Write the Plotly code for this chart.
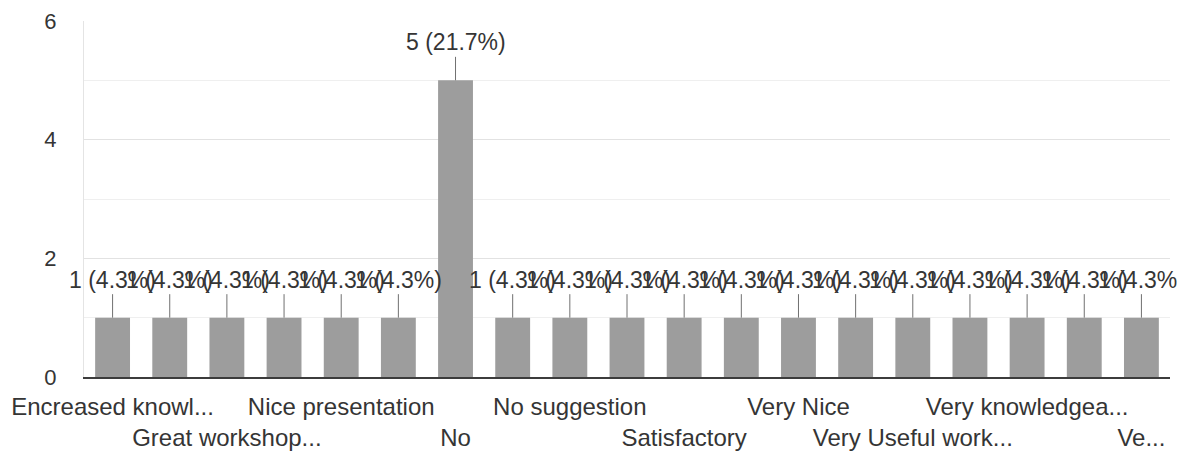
import plotly.graph_objects as go

# ---- data ----
tick_labels = ["Encreased knowl...", "", "Great workshop...", "", "Nice presentation", "",
               "No", "", "No suggestion", "", "Satisfactory", "", "Very Nice", "",
               "Very Useful work...", "", "Very knowledgea...", "", "Ve..."]
counts = [1, 1, 1, 1, 1, 1, 5, 1, 1, 1, 1, 1, 1, 1, 1, 1, 1, 1, 1]
total_responses = 23
y_tick_values = [0, 2, 4, 6]

x_pos = list(range(len(counts)))
value_labels = [f"{c} ({c / total_responses * 100:.1f}%)" for c in counts]

# alternate label rows like the original (second row pushed down with a line break)
tick_text = []
shown = 0
for lab in tick_labels:
    if lab:
        tick_text.append(lab if shown % 2 == 0 else "<br>" + lab)
        shown += 1
    else:
        tick_text.append("")

FONT = "Liberation Sans, Arial, sans-serif"
TXT = "#353535"

fig = go.Figure()
fig.add_trace(go.Bar(
    x=x_pos, y=counts,
    marker=dict(color="#9d9d9d", line=dict(width=0)),
    hoverinfo="skip",
))

for xi, c, lab in zip(x_pos, counts, value_labels):
    fig.add_annotation(
        x=xi, y=c, xref="x", yref="y",
        text=lab, showarrow=True, arrowhead=0, arrowwidth=1,
        arrowcolor="#707070", ax=0, ay=-38, standoff=0,
        font=dict(family=FONT, size=23, color=TXT),
    )

# the page body has an 8px default margin, so the figure is sized and
# its margins are set to leave the plot area where the original has it
fig.update_layout(
    width=1177, height=449,
    margin=dict(l=76, r=15, t=13, b=80, autoexpand=False),
    paper_bgcolor="white", plot_bgcolor="white",
    showlegend=False,
    bargap=0.39,
    font=dict(family=FONT, size=23, color=TXT),
)
fig.update_xaxes(
    range=[-0.5, len(counts) - 0.5],
    tickmode="array", tickvals=x_pos, ticktext=tick_text,
    tickangle=0, automargin=False,
    showgrid=False, zeroline=False,
    showline=True, linecolor="#3c3c3c", linewidth=2,
    ticks="", ticklabelstandoff=7,
    tickfont=dict(family=FONT, size=24, color=TXT),
)
fig.update_yaxes(
    range=[0, 6], automargin=False,
    tickmode="array", tickvals=y_tick_values,
    showgrid=True, gridcolor="#e2e2e2", gridwidth=1,
    minor=dict(dtick=1, showgrid=True, gridcolor="#efefef", gridwidth=1),
    zeroline=False,
    showline=True, linecolor="#e4e4e4", linewidth=1,
    ticks="", ticklabelstandoff=22,
    tickfont=dict(family=FONT, size=22, color=TXT),
)

fig.write_html("out.html")
